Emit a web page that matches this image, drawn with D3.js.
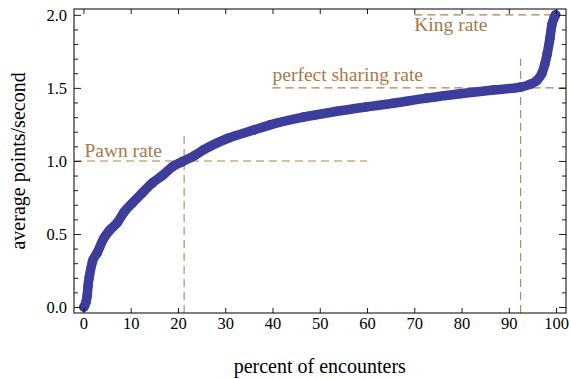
<!DOCTYPE html>
<html>
<head>
<meta charset="utf-8">
<script src="https://cdn.jsdelivr.net/npm/d3@7"></script>
<style>
  html, body { margin: 0; padding: 0; background: #fff; }
  svg { display: block; }
  text { font-family: "Liberation Serif", "Times New Roman", serif; }
</style>
</head>
<body>
<svg id="chart" width="571" height="379"></svg>
<script>
// Sorted per-encounter scoring rates: percentile of encounters vs. average points/second
const pct = [0.1, 0.5, 0.8, 0.95, 1.2, 1.9, 2.9, 4.3, 5.4, 7.2, 8.6, 10.3, 12.4, 14.6, 16.7,
             18.8, 20.9, 23.4, 25.4, 30.6, 35.9, 39.5, 46.5, 53.6, 59.9, 65.6, 72.6, 79.7,
             86.7, 92.5, 94.5, 95.9, 97.0, 97.6, 98.1, 98.7, 99.1, 99.6, 99.9];
const avgRate = [0.0, 0.03, 0.08, 0.14, 0.2, 0.31, 0.37, 0.47, 0.52, 0.58, 0.65, 0.71, 0.78, 0.85, 0.9,
                 0.96, 0.995, 1.035, 1.075, 1.155, 1.21, 1.247, 1.30, 1.34, 1.37, 1.395, 1.43, 1.46,
                 1.486, 1.505, 1.525, 1.55, 1.60, 1.66, 1.73, 1.84, 1.93, 1.98, 2.0];

// Reference rates (horizontal) and their crossing percentiles (vertical)
const refLines = [
  { label: "Pawn rate",            rate: 1.0, from: -2,  to: 60,    crossPct: 21.3, crossTop: 1.2 },
  { label: "perfect sharing rate", rate: 1.5, from: 40,  to: 102.1, crossPct: 92.5, crossTop: 1.7 },
  { label: "King rate",            rate: 2.0, from: 70,  to: 100,   crossPct: null, crossTop: null }
];

const xTicks = [0, 10, 20, 30, 40, 50, 60, 70, 80, 90, 100];
const yTicks = [0, 0.5, 1.0, 1.5, 2.0];
const yMinorTicks = d3.range(0, 21).map(i => i / 10).filter(v => !yTicks.some(t => Math.abs(t - v) < 1e-9));

const xTitle = "percent of encounters";
const yTitle = "average points/second";

const svg = d3.select("#chart");
const frameL = 74, frameR = 566, frameT = 9, frameB = 313;
const serif = '"Liberation Serif", "Times New Roman", serif';

const x = d3.scaleLinear().domain([-2, 102.1]).range([frameL, frameR]);
const y = d3.scaleLinear().domain([-0.041, 2.04]).range([frameB, frameT]);

const refColor = "#b08050";
const labelColor = "#a8784a";
const dotColor = "#3d3d9b";

// Reference dashed lines
const refG = svg.append("g");
refLines.forEach(r => {
  refG.append("line")
    .attr("x1", x(r.from)).attr("x2", x(r.to))
    .attr("y1", y(r.rate)).attr("y2", y(r.rate))
    .attr("stroke", refColor).attr("stroke-width", 1.1)
    .attr("stroke-dasharray", "8,5");
  if (r.crossPct !== null) {
    refG.append("line")
      .attr("x1", x(r.crossPct)).attr("x2", x(r.crossPct))
      .attr("y1", frameB).attr("y2", y(r.crossTop))
      .attr("stroke", refColor).attr("stroke-width", 1.1)
      .attr("stroke-dasharray", "8,5");
  }
});

// Labels for the reference rates
const labelPos = [
  { dx: 0.2, dyRate: 0.03 },
  { dx: 40,  dyRate: 0.045 },
  { dx: 70,  dyRate: -0.11 }
];
refLines.forEach((r, i) => {
  svg.append("text")
    .attr("x", x(labelPos[i].dx))
    .attr("y", y(r.rate + labelPos[i].dyRate))
    .attr("fill", labelColor)
    .style("font-family", serif)
    .style("font-size", "19.5px")
    .text(r.label);
});

// The data curve, drawn as a thick run of large points
const data = pct.map((p, i) => ({ p, v: avgRate[i] }));
const line = d3.line().x(d => x(d.p)).y(d => y(d.v)).curve(d3.curveMonotoneX);
svg.append("path")
  .datum(data)
  .attr("d", line)
  .attr("fill", "none")
  .attr("stroke", dotColor)
  .attr("stroke-width", 9.5)
  .attr("stroke-linecap", "round")
  .attr("stroke-linejoin", "round");
svg.append("g").selectAll("circle")
  .data(data)
  .join("circle")
  .attr("cx", d => x(d.p))
  .attr("cy", d => y(d.v))
  .attr("r", 4.8)
  .attr("fill", dotColor);

// Frame with inward ticks on all four sides
const axisStyle = g => {
  g.attr("font-family", null).attr("font-size", null);
  g.select(".domain").remove();
  g.selectAll("line").attr("stroke", "#000").attr("stroke-width", 0.9);
  g.selectAll("text")
    .attr("fill", "#000")
    .style("font-family", serif)
    .style("font-size", "16.5px");
};

svg.append("g").attr("transform", `translate(0,${frameB})`)
  .call(d3.axisBottom(x).tickValues(xTicks).tickFormat(d3.format("d")).tickSizeInner(-5).tickSizeOuter(0).tickPadding(4))
  .call(axisStyle);
svg.append("g").attr("transform", `translate(0,${frameT})`)
  .call(d3.axisTop(x).tickValues(xTicks).tickFormat("").tickSizeInner(-5).tickSizeOuter(0))
  .call(axisStyle);

svg.append("g").attr("transform", `translate(${frameL},0)`)
  .call(d3.axisLeft(y).tickValues(yTicks).tickFormat(d3.format(".1f")).tickSizeInner(-7).tickSizeOuter(0).tickPadding(7))
  .call(axisStyle);
svg.append("g").attr("transform", `translate(${frameL},0)`)
  .call(d3.axisLeft(y).tickValues(yMinorTicks).tickFormat("").tickSizeInner(-4).tickSizeOuter(0))
  .call(axisStyle);
svg.append("g").attr("transform", `translate(${frameR},0)`)
  .call(d3.axisRight(y).tickValues(yTicks).tickFormat("").tickSizeInner(-7).tickSizeOuter(0))
  .call(axisStyle);
svg.append("g").attr("transform", `translate(${frameR},0)`)
  .call(d3.axisRight(y).tickValues(yMinorTicks).tickFormat("").tickSizeInner(-4).tickSizeOuter(0))
  .call(axisStyle);

svg.append("rect")
  .attr("x", frameL).attr("y", frameT)
  .attr("width", frameR - frameL).attr("height", frameB - frameT)
  .attr("fill", "none").attr("stroke", "#000").attr("stroke-width", 1);

// Axis titles
svg.append("text")
  .attr("x", (x(0) + x(100)) / 2).attr("y", 373)
  .attr("text-anchor", "middle")
  .style("font-family", serif).style("font-size", "20px")
  .text(xTitle);
svg.append("text")
  .attr("transform", `translate(25,${(y(0) + y(2)) / 2}) rotate(-90)`)
  .attr("text-anchor", "middle")
  .style("font-family", serif).style("font-size", "20px")
  .text(yTitle);
</script>
</body>
</html>
